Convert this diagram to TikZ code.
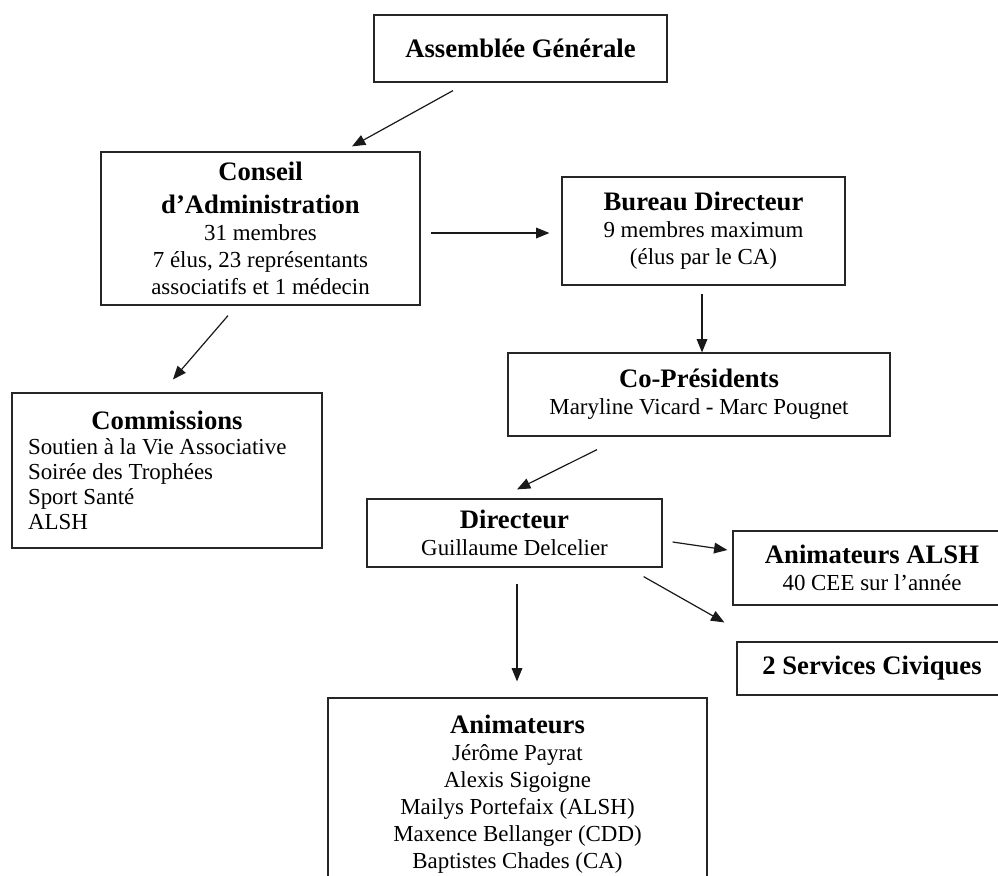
\documentclass[tikz,border=0pt]{standalone}
\usepackage{fontspec}
\setmainfont{Liberation Serif}
\usetikzlibrary{calc,positioning,arrows.meta}
\newcommand\hdfnt{\fontsize{20}{24}\selectfont\bfseries}
\newcommand\bodyfnt{\fontsize{17.2}{20.25}\selectfont}

\begin{document}
\begin{tikzpicture}[x=0.75pt,y=-0.75pt,
  box/.style={draw=black!85,line width=0.9pt,inner sep=0pt,align=center,font=\bodyfnt},
  arr/.style={draw=black!90,line width=0.9pt,-{Triangle[length=10pt,width=8pt]}}]
\useasboundingbox (0,0) rectangle (998,875);
\node[box,minimum width=219.75pt,minimum height=50.25pt] (ag) at (520.5,48.5) {{\hdfnt Assemblée Générale}};
\node[box,minimum width=239.25pt,minimum height=114.75pt] (ca) at (260.5,228.5)
  {{\hdfnt Conseil}\\[5pt]{\hdfnt d’Administration}\\31 membres\\7 élus, 23 représentants\\associatifs et 1 médecin};
\node[box,minimum width=212.25pt,minimum height=81pt] (bd) at (703.5,231)
  {{\hdfnt Bureau Directeur}\\9 membres maximum\\(élus par le CA)};
\node[box,minimum width=286.5pt,minimum height=62.25pt] (cp) at (699,394.5)
  {{\hdfnt Co-Présidents}\\Maryline Vicard - Marc Pougnet};
\node[box,align=left,minimum width=232.5pt,minimum height=116.25pt] (com) at (167,470.5)
  {\makebox[208.5pt][c]{\hdfnt Commissions}\\[-1pt]\makebox[208.5pt][l]{Soutien à la Vie Associative}\\[-1.5pt]Soirée des Trophées\\[-1.5pt]Sport Santé\\[-1.5pt]ALSH};
\node[box,minimum width=221.25pt,minimum height=51pt] (dir) at (514.5,533)
  {{\hdfnt Directeur}\\Guillaume Delcelier};
\node[box,minimum width=208.5pt,minimum height=55.5pt] (alsh) at (872,568)
  {{\hdfnt Animateurs ALSH}\\40 CEE sur l’année};
\node[box,minimum width=202.5pt,minimum height=39.75pt] (sc) at (872,668.5)
  {{\hdfnt 2 Services Civiques}};
\node[box,minimum width=284.25pt,minimum height=144pt] (anim) at (517.5,794)
  {{\hdfnt Animateurs}\\Jérôme Payrat\\Alexis Sigoigne\\Mailys Portefaix (ALSH)\\Maxence Bellanger (CDD)\\Baptistes Chades (CA)};
\draw[arr] ([shift={(-67.5,8)}]ag.south) -- ([shift={(91.5,-5)}]ca.north);
\draw[arr] ([shift={(10,4.5)}]ca.east) -- ([shift={(-12,2)}]bd.west);
\draw[arr] ([shift={(-1.5,8)}]bd.south) -- ([shift={(3,0)}]cp.north);
\draw[arr] ([shift={(-32.5,10)}]ca.south) -- ([shift={(6,-13)}]com.north);
\draw[arr] ([shift={(-102,13)}]cp.south) -- ([shift={(2.5,-9)}]dir.north);
\draw[arr] ([shift={(10,9)}]dir.east) -- ([shift={(-5,-18)}]alsh.west);
\draw[arr] ([shift={(-19,9)}]dir.south east) -- ([shift={(-12,-19)}]sc.north west);
\draw[arr] ([shift={(2.5,16)}]dir.south) -- ([shift={(-0.5,-16)}]anim.north);
\end{tikzpicture}
\end{document}
